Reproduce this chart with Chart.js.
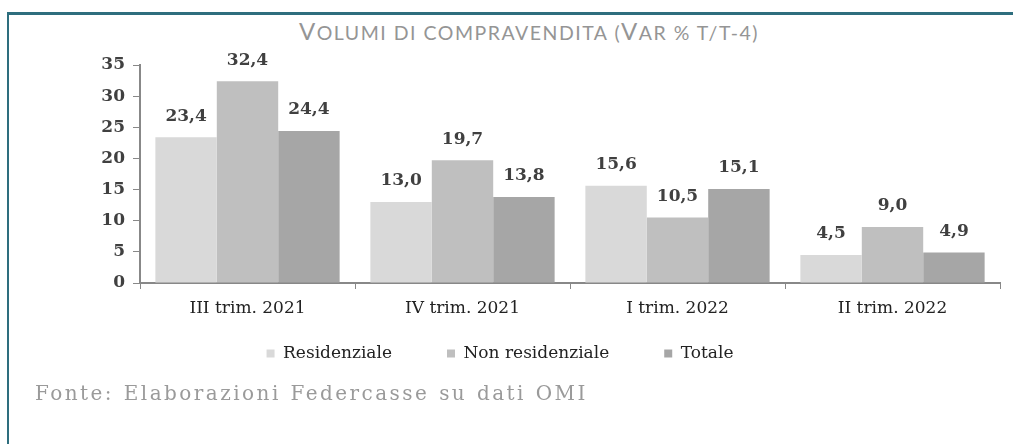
<!DOCTYPE html>
<html>
<head>
<meta charset="utf-8">
<script src="https://cdn.jsdelivr.net/npm/chart.js@4"></script>
<style>
  html, body { margin: 0; padding: 0; background: #fff; }
  #wrap { position: relative; width: 1013px; height: 444px; overflow: hidden; }
  #frame { position: absolute; left: 7px; top: 12px; right: -10px; bottom: -10px;
           border-top: 3px solid #2e6e7e; border-left: 2px solid #2e6e7e; }
  #title { position: absolute; left: 0; width: 1058px; top: 16px; text-align: center;
           font-family: Lato, "DejaVu Sans", sans-serif; color: #959595; letter-spacing: 1.5px;
           white-space: nowrap; }
  #title .b { font-size: 24px; }
  #title .s { font-size: 19.5px; text-transform: uppercase; }
  #source { position: absolute; left: 35px; top: 381px; font-family: "DejaVu Serif", serif;
            font-size: 20px; color: #9a9a9a; letter-spacing: 2.45px; word-spacing: 1px; white-space: nowrap; }
  canvas { position: absolute; left: 0; top: 0; }
</style>
</head>
<body>
<div id="wrap">
  <div id="frame"></div>
  <div id="title"><span class="b">V</span><span class="s">olumi di compravendita (</span><span class="b">V</span><span class="s">ar % t/t-4)</span></div>
  <canvas id="c" width="1013" height="444"></canvas>
  <div id="source">Fonte: Elaborazioni Federcasse su dati OMI</div>
</div>
<script>
const categories = ["III trim. 2021", "IV trim. 2021", "I trim. 2022", "II trim. 2022"];
const residenziale = [23.4, 13.0, 15.6, 4.5];
const nonResidenziale = [32.4, 19.7, 10.5, 9.0];
const totale = [24.4, 13.8, 15.1, 4.9];
const seriesNames = ["Residenziale", "Non residenziale", "Totale"];
const seriesColors = ["#d9d9d9", "#bfbfbf", "#a6a6a6"];
const yTicks = [0, 5, 10, 15, 20, 25, 30, 35];

const valueLabels = {
  id: 'valueLabels',
  afterDatasetsDraw(chart) {
    const ctx = chart.ctx;
    ctx.save();
    ctx.font = 'bold 17px "DejaVu Serif", serif';
    ctx.fillStyle = '#404040';
    ctx.textAlign = 'center';
    ctx.textBaseline = 'middle';
    chart.data.datasets.forEach((ds, i) => {
      chart.getDatasetMeta(i).data.forEach((bar, j) => {
        ctx.fillText(ds.data[j].toFixed(1).replace('.', ','), bar.x, bar.y - 21);
      });
    });
    ctx.restore();
  }
};

// keep the wide horizontal legend spacing but pull the legend row up closer to the axis
const legendShift = {
  id: 'legendShift',
  afterLayout(chart) {
    const lg = chart.legend;
    if (!lg) return;
    const target = chart.chartArea.bottom + 7;
    const d = lg.top - target;
    lg.top -= d; lg.bottom -= d;
  }
};

new Chart(document.getElementById('c'), {
  type: 'bar',
  data: {
    labels: categories,
    datasets: [
      { label: seriesNames[0], data: residenziale, backgroundColor: seriesColors[0] },
      { label: seriesNames[1], data: nonResidenziale, backgroundColor: seriesColors[1] },
      { label: seriesNames[2], data: totale, backgroundColor: seriesColors[2] }
    ]
  },
  options: {
    responsive: false,
    animation: false,
    layout: { padding: { left: 0, right: 13, top: 65, bottom: 34.6 } },
    datasets: { bar: { categoryPercentage: 0.857, barPercentage: 1.0 } },
    plugins: {
      legend: {
        position: 'bottom',
        labels: {
          boxWidth: 8, boxHeight: 8, padding: 55,
          font: { family: '"DejaVu Serif", serif', size: 17 },
          color: '#222'
        }
      },
      tooltip: { enabled: false }
    },
    scales: {
      x: {
        grid: { display: true, drawOnChartArea: false, offset: true, tickLength: 6, color: '#888', lineWidth: 1 },
        border: { display: true, color: '#888', width: 2 },
        ticks: { font: { family: '"DejaVu Serif", serif', size: 17 }, color: '#222', padding: 9, maxRotation: 0 }
      },
      y: {
        min: 0, max: 35,
        afterFit(scale) { scale.width = 140; },
        afterBuildTicks(scale) { scale.ticks = yTicks.map(v => ({ value: v })); },
        grid: { display: true, drawOnChartArea: false, tickLength: 7, color: '#888', lineWidth: 1 },
        border: { display: true, color: '#888', width: 2 },
        ticks: { font: { family: '"DejaVu Serif", serif', size: 17, weight: 'bold' }, color: '#404040', padding: 8 }
      }
    }
  },
  plugins: [valueLabels, legendShift]
});
</script>
</body>
</html>
